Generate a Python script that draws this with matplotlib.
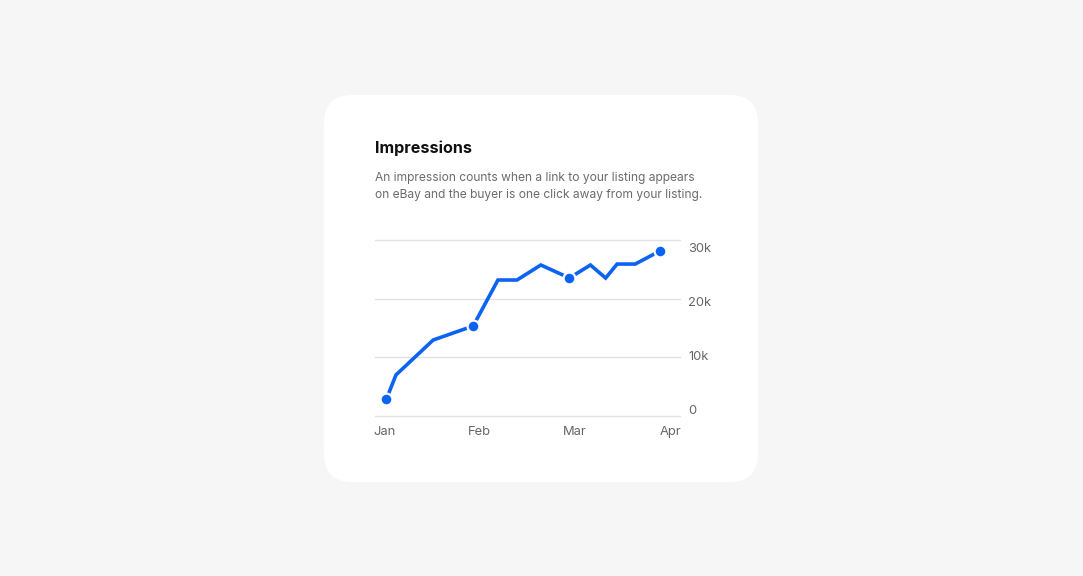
import matplotlib.pyplot as plt
from matplotlib.patches import FancyBboxPatch

# data: x in months from Jan (0=Jan, 1=Feb, ...), y in impressions
x_vals = [0.02, 0.12, 0.51, 0.93, 1.19, 1.39, 1.64, 1.94, 2.16, 2.32, 2.44, 2.63, 2.89]
y_vals = [2900, 7000, 12950, 15340, 23180, 23180, 25740, 23520, 25740, 23520, 25900, 25900, 28130]
dot_idx = [0, 3, 7, 12]
month_pos = [0, 1, 2, 3]
month_labels = ['Jan', 'Feb', 'Mar', 'Apr']
y_ticks = [0, 10000, 20000, 30000]
y_labels = ['0', '10k', '20k', '30k']

blue = '#0c63f2'
W, H = 1083, 576
fig = plt.figure(figsize=(W / 100, H / 100), dpi=100)
fig.patch.set_facecolor('#f6f6f6')

# card
card = FancyBboxPatch((324 / W, (576 - 482) / H), (758 - 324) / W, (482 - 95) / H,
                      boxstyle='round,pad=0,rounding_size=0.026', transform=fig.transFigure,
                      facecolor='white', edgecolor='none', mutation_aspect=W / H, zorder=-5)
fig.patches.append(card)

fig.text(375 / W, 1 - 148 / H, 'Impressions', fontsize=11.6, fontweight='bold',
         family='Inter', color='#111111', va='center', ha='left')
fig.text(375 / W, 1 - 178 / H, 'An impression counts when a link to your listing appears',
         fontsize=8.65, family='Inter', color='#6b6b6b', va='center', ha='left')
fig.text(375 / W, 1 - 195 / H, 'on eBay and the buyer is one click away from your listing.',
         fontsize=8.65, family='Inter', color='#6b6b6b', va='center', ha='left')

ax = fig.add_axes([375 / W, (576 - 416) / H, 305 / W, 176 / H])
ax.set_facecolor('none')
ax.set_xlim(-0.1, 3.1)
ax.set_ylim(0, 30000)
for v in y_ticks:
    ax.axhline(v, color='#e3e3e3', lw=1.0, zorder=0, clip_on=False)
ax.plot(x_vals, y_vals, color=blue, lw=2.6, solid_joinstyle='miter', solid_capstyle='butt', zorder=2)
ax.plot([x_vals[i] for i in dot_idx], [y_vals[i] for i in dot_idx], 'o', ms=8.5,
        color=blue, mec='white', mew=1.6, zorder=3, clip_on=False)
for s in ax.spines.values():
    s.set_visible(False)
ax.set_yticks([])
ax.set_xticks(month_pos)
ax.set_xticklabels(month_labels, family='Inter', fontsize=9.3, color='#666666')
ax.tick_params(axis='x', length=0, pad=7)

# y labels sit on their own scale (slightly offset from gridlines as in the design)
ax2 = ax.twinx()
ax2.set_ylim(-1300, 31470)
ax2.set_yticks(y_ticks)
ax2.set_yticklabels(y_labels, family='Inter', fontsize=9.3, color='#666666')
ax2.tick_params(axis='y', length=0, pad=6)
for s in ax2.spines.values():
    s.set_visible(False)

fig.savefig('out.png', dpi=100, facecolor=fig.get_facecolor())
